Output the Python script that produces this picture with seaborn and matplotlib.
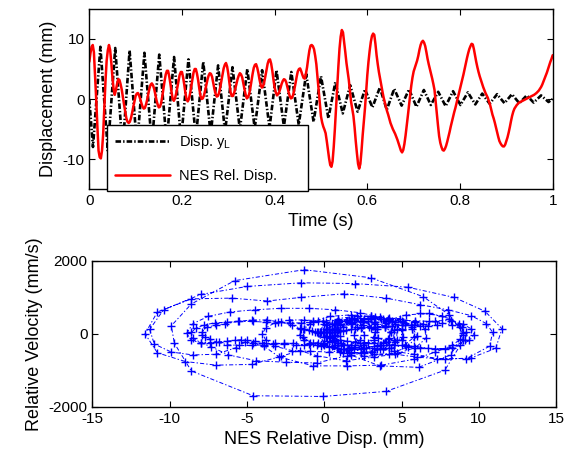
import numpy as np
import pandas as pd
import matplotlib
matplotlib.use("Agg")
import matplotlib.pyplot as plt
import seaborn as sns

# Disp. y_L (black dash-dot): extrema
t_black = [0.000, 0.008, 0.024, 0.040, 0.056, 0.072, 0.087, 0.103, 0.119, 0.135,
           0.151, 0.167, 0.183, 0.198, 0.214, 0.230, 0.246, 0.262, 0.278, 0.293,
           0.309, 0.325, 0.341, 0.357, 0.373, 0.389, 0.404, 0.420, 0.436, 0.452,
           0.468, 0.484, 0.500, 0.516, 0.531, 0.547, 0.563, 0.579, 0.595, 0.611,
           0.627, 0.642, 0.658, 0.674, 0.690, 0.706, 0.722, 0.737, 0.753, 0.769,
           0.785, 0.801, 0.817, 0.833, 0.848, 0.864, 0.880, 0.896, 0.912, 0.928,
           0.944, 0.959, 0.975, 0.991, 1.000]
disp_yl = [0.0, -8.0, 8.7, -8.6, 8.5, -8.3, 8.1, -7.9, 7.7, -7.5,
           7.4, -7.2, 7.0, -6.8, 6.6, -6.4, 6.2, -5.9, 5.6, -5.5,
           5.3, -5.1, 5.0, -4.9, 4.8, -4.8, 4.8, -4.6, 4.5, -4.3,
           4.2, -3.8, 3.8, -3.2, 2.8, -2.4, 2.3, -2.1, 1.6, -1.4,
           1.9, -1.8, 1.7, -1.1, 1.6, -1.3, 1.5, -1.0, 1.2, -1.2,
           1.3, -1.0, 1.1, -0.9, 0.9, -0.8, 0.8, -0.7, 0.8, -0.7,
           0.6, -0.6, 0.6, -0.5, 0.0]

# NES relative displacement (red), one value every 2.5 ms from t = 0 to 1 s
nes_disp = [
    6.2, 7.6, 8.7, 9.0, 7.8, 4.0, -0.1, -4.6, -8.6, -9.7,
    -9.9, -8.6, -5.8, -1.3, 3.0, 6.4, 8.1, 9.0, 8.2, 6.1,
    3.6, 1.7, 0.7, 1.5, 2.5, 3.3, 3.2, 2.5, 1.6, 0.3,
    -0.9, -2.1, -3.2, -3.8, -4.0, -3.8, -3.2, -2.3, -1.3, -0.4,
    0.5, 0.9, 1.0, 0.6, 0.0, -0.7, -1.3, -1.6, -1.5, -0.9,
    -0.1, 0.9, 1.8, 2.4, 2.6, 2.3, 1.7, 0.8, -0.2, -0.9,
    -1.4, -1.3, -0.7, 0.4, 1.7, 3.0, 4.1, 4.7, 4.7, 3.8,
    2.6, 1.2, 0.0, -0.3, 0.1, 0.9, 1.9, 3.0, 4.0, 4.5,
    4.5, 3.6, 2.4, 1.0, -0.1, -0.4, 0.0, 0.9, 2.1, 3.3,
    4.4, 5.0, 5.0, 4.2, 3.1, 1.7, 0.5, 0.0, 0.1, 0.6,
    1.4, 2.3, 3.2, 3.9, 4.3, 4.2, 3.7, 2.7, 1.7, 0.9,
    0.4, 0.5, 1.0, 1.9, 3.0, 4.1, 5.1, 5.7, 6.0, 5.4,
    4.2, 2.6, 1.1, 0.5, 0.5, 1.0, 1.7, 2.5, 3.3, 3.9,
    4.3, 4.1, 3.6, 2.6, 1.6, 0.7, 0.1, 0.3, 0.8, 1.8,
    3.0, 4.2, 5.2, 5.7, 5.8, 5.2, 4.3, 3.2, 2.3, 1.9,
    2.1, 2.8, 3.8, 4.9, 5.9, 6.5, 6.6, 5.9, 4.7, 3.2,
    1.9, 1.1, 0.6, 0.8, 1.2, 1.8, 2.5, 3.0, 3.3, 3.2,
    2.8, 2.0, 1.2, 0.5, 0.1, 0.2, 0.7, 1.6, 2.6, 3.7,
    4.6, 5.0, 5.1, 4.6, 4.0, 3.5, 3.4, 4.2, 5.3, 6.8,
    8.1, 8.9, 9.0, 8.8, 8.3, 7.2, 5.8, 3.7, 1.5, -0.7,
    -2.9, -3.9, -4.6, -5.1, -5.7, -7.0, -8.5, -9.9, -11.0, -11.3,
    -10.4, -8.0, -5.0, -1.5, 2.0, 5.4, 8.4, 10.4, 11.5, 11.1,
    9.5, 7.8, 6.0, 4.6, 3.2, 1.4, -0.5, -1.6, -2.8, -4.7,
    -7.0, -9.0, -10.8, -11.6, -10.8, -8.6, -6.0, -3.7, -1.5, 1.3,
    4.0, 6.2, 8.0, 9.5, 10.5, 10.9, 10.7, 9.2, 7.3, 5.8,
    4.5, 3.4, 2.4, 1.3, 0.3, -0.5, -1.3, -2.0, -2.6, -3.3,
    -4.0, -4.5, -5.0, -5.4, -5.8, -6.3, -6.8, -7.4, -8.0, -8.6,
    -8.9, -8.5, -7.5, -6.1, -4.5, -2.8, -1.0, 0.7, 2.3, 3.6,
    4.6, 5.2, 5.8, 6.4, 7.2, 8.2, 9.0, 9.5, 9.7, 9.4,
    8.8, 7.8, 6.7, 5.8, 5.0, 4.2, 3.4, 2.5, 1.5, -0.5,
    -2.5, -4.4, -6.2, -7.3, -8.0, -8.5, -8.6, -8.3, -7.8, -7.1,
    -6.3, -5.5, -4.6, -3.8, -3.0, -2.2, -1.5, -0.7, 0.1, 0.9,
    1.7, 2.5, 3.3, 4.1, 5.0, 5.9, 6.8, 7.6, 8.3, 8.8,
    9.2, 9.1, 8.3, 7.2, 6.2, 5.3, 4.5, 3.8, 3.2, 2.6,
    2.0, 1.5, 1.0, 0.6, 0.2, -0.4, -1.0, -1.8, -2.6, -3.2,
    -3.9, -4.7, -5.5, -6.3, -7.0, -7.4, -7.7, -7.9, -7.9, -7.6,
    -7.0, -6.4, -5.6, -4.7, -3.7, -2.8, -2.1, -1.6, -1.3, -1.0,
    -0.8, -0.6, -0.5, -0.4, -0.3, -0.2, -0.1, 0.0, 0.1, 0.2,
    0.3, 0.4, 0.5, 0.6, 0.7, 0.85, 1.0, 1.2, 1.4, 1.7,
    2.0, 2.4, 2.9, 3.4, 3.9, 4.4, 5.0, 5.6, 6.2, 6.7,
    7.3]
t_nes = np.linspace(0, 1, len(nes_disp))

time_ticks = [0, 0.2, 0.4, 0.6, 0.8, 1]
time_tick_labels = ["0", "0.2", "0.4", "0.6", "0.8", "1"]
disp_ticks = [-10, 0, 10]
phase_x_ticks = [-15, -10, -5, 0, 5, 10, 15]
phase_y_ticks = [-2000, 0, 2000]

# relative velocity = time derivative of the NES relative displacement
nes_vel = np.gradient(nes_disp, t_nes)

df_black = pd.DataFrame({"t": t_black, "d": disp_yl})
df_red = pd.DataFrame({"t": t_nes, "d": nes_disp, "v": nes_vel})

sns.set_theme(style="ticks", rc={
    "xtick.direction": "in", "ytick.direction": "in",
    "xtick.top": True, "ytick.right": True,
    "xtick.major.size": 4, "ytick.major.size": 4,
    "xtick.major.width": 0.8, "ytick.major.width": 0.8,
    "axes.linewidth": 1.0, "axes.edgecolor": "black",
    "xtick.color": "black", "ytick.color": "black",
    "axes.labelcolor": "black", "text.color": "black",
})
plt.rcParams["font.family"] = ["Liberation Sans", "DejaVu Sans"]
plt.rcParams["axes.unicode_minus"] = False
plt.rcParams["lines.scale_dashes"] = False

fig = plt.figure(figsize=(5.65, 4.66), dpi=100)
ax1 = fig.add_axes([0.158, 0.5944, 0.8202, 0.3863])
ax2 = fig.add_axes([0.1637, 0.1273, 0.8204, 0.3127])

# Displacement vs time
sns.lineplot(data=df_black, x="t", y="d", ax=ax1, color="black", lw=1.9,
             linestyle=(0, (4, 1.5, 1, 1.5)), estimator=None, sort=False,
             label="Disp. y$_\\mathregular{L}$")
sns.lineplot(data=df_red, x="t", y="d", ax=ax1, color="red", lw=1.8,
             estimator=None, sort=False, label="NES Rel. Disp.")
ax1.set_xlim(0, 1)
ax1.set_ylim(-15, 15)
ax1.set_xticks(time_ticks)
ax1.set_xticklabels(time_tick_labels)
ax1.set_yticks(disp_ticks)
ax1.set_xlabel("Time (s)", fontsize=13)
ax1.set_ylabel("Displacement (mm)", fontsize=13)
ax1.tick_params(labelsize=11)
leg = ax1.legend(loc="lower left", bbox_to_anchor=(0.038, -0.011, 0.434, 0.367),
                 mode="expand", borderaxespad=0, fancybox=False, framealpha=1,
                 edgecolor="black", fontsize=10.5, handlelength=3.8,
                 handletextpad=0.6, labelspacing=1.25, borderpad=0.55)
leg.get_frame().set_linewidth(1.0)
leg.set_zorder(5)

# Phase plot
sns.lineplot(data=df_red, x="d", y="v", ax=ax2, color="blue", lw=0.7,
             linestyle=(0, (3, 1.5, 1, 1.5)), marker="+", markersize=6,
             markeredgewidth=1.0, markeredgecolor="blue", markerfacecolor="blue",
             estimator=None, sort=False)
ax2.set_xlim(-15, 15)
ax2.set_ylim(-2000, 2000)
ax2.set_xticks(phase_x_ticks)
ax2.set_yticks(phase_y_ticks)
ax2.set_xlabel("NES Relative Disp. (mm)", fontsize=13)
ax2.set_ylabel("Relative Velocity (mm/s)", fontsize=13)
ax2.tick_params(labelsize=11)

fig.savefig("out.png", dpi=100)
